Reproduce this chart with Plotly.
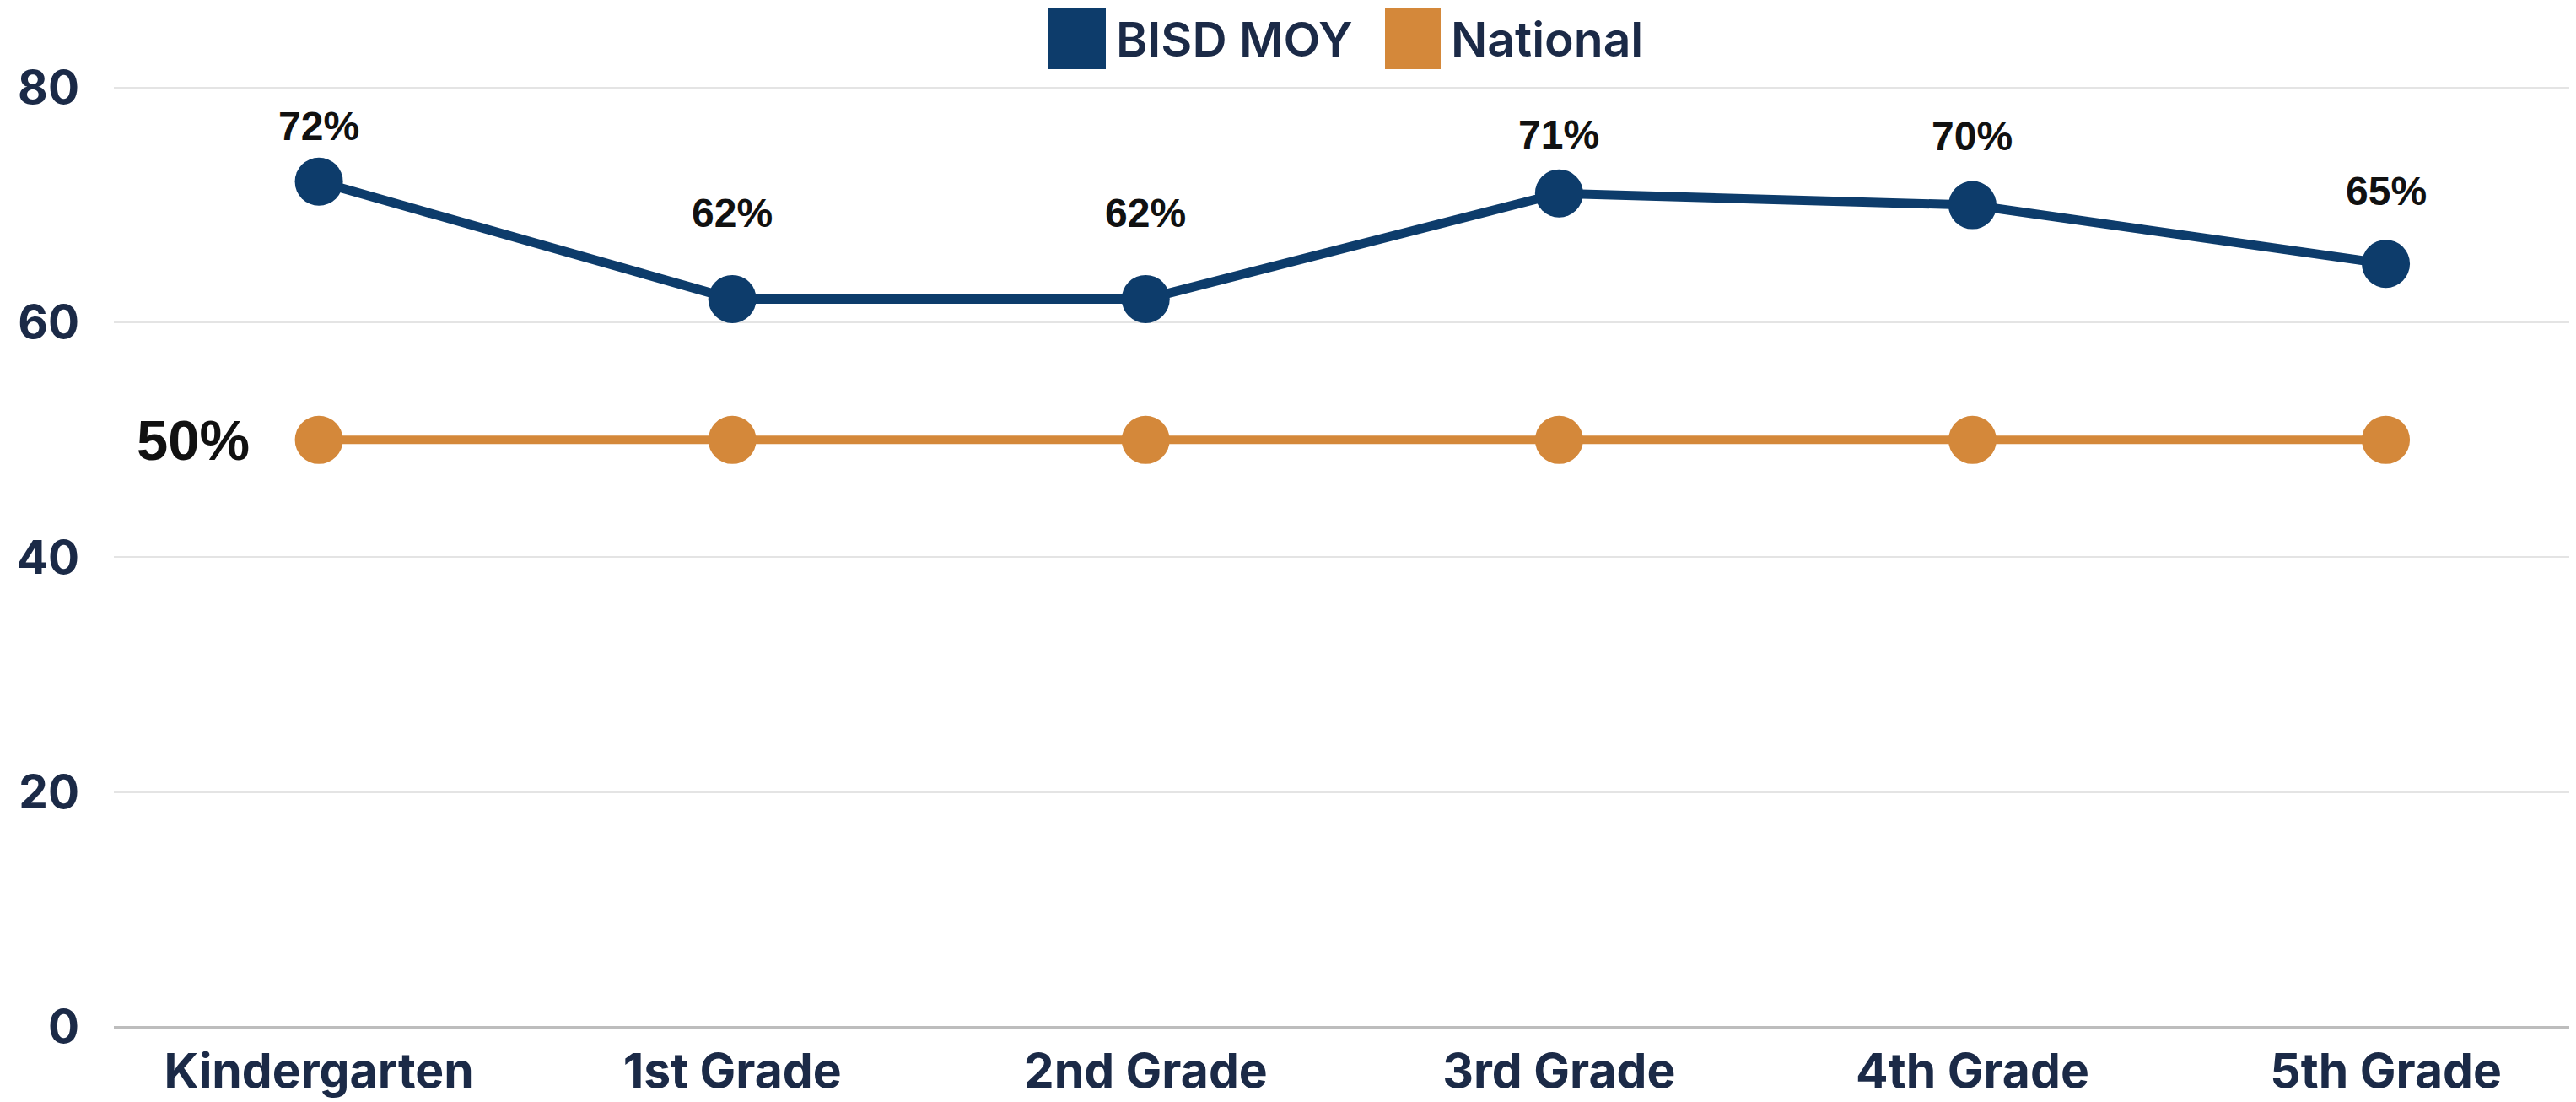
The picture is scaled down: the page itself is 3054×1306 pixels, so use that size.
import plotly.graph_objects as go

# data
grades = ['Kindergarten', '1st Grade', '2nd Grade', '3rd Grade', '4th Grade', '5th Grade']
bisd_moy = [72, 62, 62, 71, 70, 65]
national = [50, 50, 50, 50, 50, 50]
series_names = ['BISD MOY', 'National']
y_ticks = [0, 20, 40, 60, 80]

# label nudges above each BISD marker (px)
label_shift = [66, 102, 102, 70, 82, 86]

NAVY = '#0d3c6b'
ORANGE = '#d4883a'
TICK = '#1b2a47'

W, H = 3054, 1306
ML, MR, MT, MB = 127, 8, 89, 97
PAGE = 8  # body margin of the html page

fig = go.Figure()
fig.add_trace(go.Scatter(x=grades, y=national, mode='lines+markers', name=series_names[1],
                         line=dict(color=ORANGE, width=10),
                         marker=dict(color=ORANGE, size=57), cliponaxis=False))
fig.add_trace(go.Scatter(x=grades, y=bisd_moy, mode='lines+markers', name=series_names[0],
                         line=dict(color=NAVY, width=11),
                         marker=dict(color=NAVY, size=57), cliponaxis=False))

# value labels
for g, v, s in zip(grades, bisd_moy, label_shift):
    fig.add_annotation(x=g, y=v, text=f'{v}%', showarrow=False, yshift=s,
                       font=dict(family='Liberation Sans', size=48, color='#111111', weight=700))
fig.add_annotation(x=grades[0], y=national[0], text=f'{national[0]}%', showarrow=False,
                   xanchor='right', xshift=-80,
                   font=dict(family='Liberation Sans', size=67, color='#111111', weight=700))

# hand-drawn legend (big square swatches), positions in page pixels
def px_x(p):
    return (p - PAGE - ML) / (W - ML - MR)

def px_y(p):
    return (H - MB - (p - PAGE)) / (H - MB - MT)

legend = [(series_names[0], NAVY, 1243, 1311), (series_names[1], ORANGE, 1642, 1708)]
for name, col, x0, x1 in legend:
    fig.add_shape(type='rect', xref='paper', yref='paper',
                  x0=px_x(x0), x1=px_x(x1), y0=px_y(82), y1=px_y(10),
                  fillcolor=col, line=dict(width=0))
    fig.add_annotation(xref='paper', yref='paper', x=px_x(x1 + 10), y=px_y(46),
                       text=name, showarrow=False, xanchor='left', yanchor='middle',
                       font=dict(family='Inter', size=57, color=TICK, weight=600))

fig.update_layout(
    width=W, height=H,
    margin=dict(l=ML, r=MR, t=MT, b=MB),
    plot_bgcolor='white', paper_bgcolor='white',
    showlegend=False,
    font=dict(family='Inter', color=TICK),
)
fig.update_xaxes(range=[-0.496, 5.46], showgrid=False, showline=False, zeroline=False,
                 automargin=False,
                 tickfont=dict(family='Inter', size=57, color=TICK, weight=700),
                 ticklabelstandoff=14)
fig.update_yaxes(range=[0, 80.5], tickvals=y_ticks, showgrid=True, gridcolor='#e4e4e4',
                 gridwidth=2, zeroline=True, zerolinecolor='#bdbdbd', zerolinewidth=3,
                 automargin=False,
                 tickfont=dict(family='Inter', size=55, color=TICK, weight=700),
                 ticklabelstandoff=40)

fig.write_html('out.html')
